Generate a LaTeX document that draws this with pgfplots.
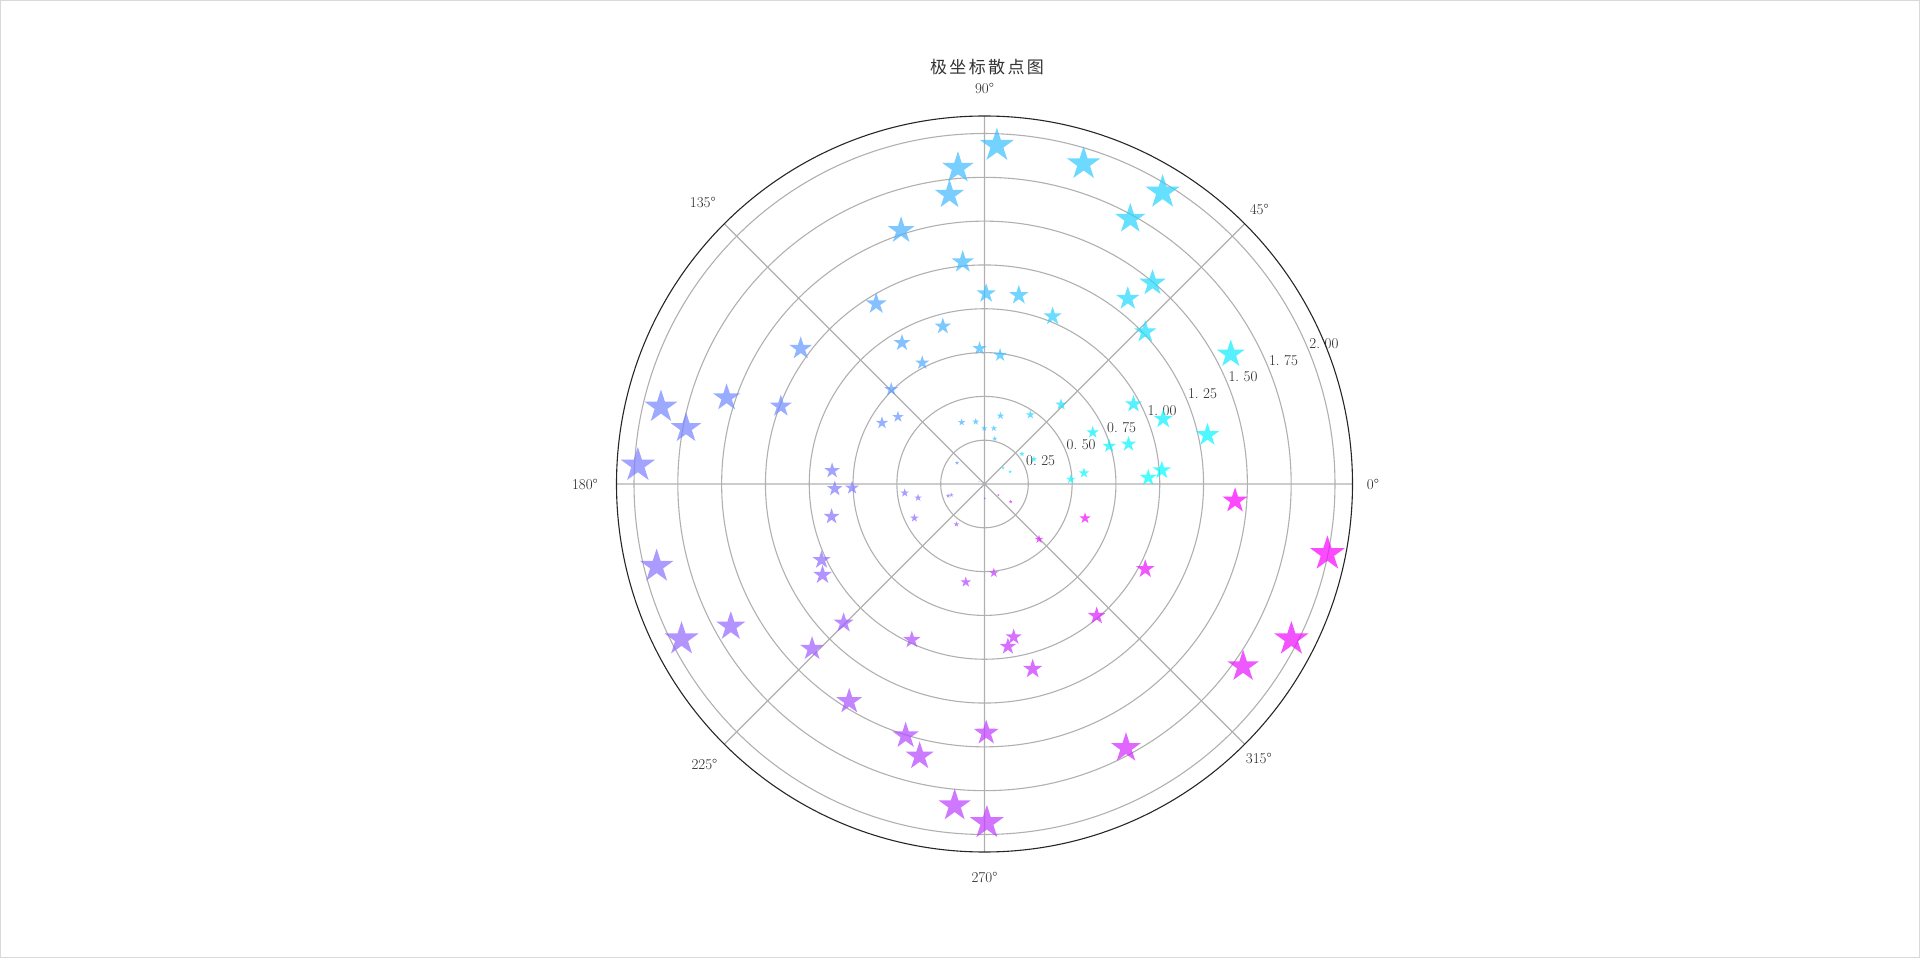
\documentclass[border=0pt]{standalone}
\usepackage{fontspec}
\newfontfamily\cjk[LetterSpace=14]{Noto Sans CJK SC}
\usepackage{pgfplots}
\usepackage{pgfplotstable}
\pgfplotsset{compat=1.18}
\usepgfplotslibrary{polar}

\pgfdeclareplotmark{fstar}{%
  \pgfpathmoveto{\pgfqpointpolar{90}{\pgfplotmarksize}}%
  \pgfpathlineto{\pgfqpointpolar{126}{0.382\pgfplotmarksize}}%
  \pgfpathlineto{\pgfqpointpolar{162}{\pgfplotmarksize}}%
  \pgfpathlineto{\pgfqpointpolar{198}{0.382\pgfplotmarksize}}%
  \pgfpathlineto{\pgfqpointpolar{234}{\pgfplotmarksize}}%
  \pgfpathlineto{\pgfqpointpolar{270}{0.382\pgfplotmarksize}}%
  \pgfpathlineto{\pgfqpointpolar{306}{\pgfplotmarksize}}%
  \pgfpathlineto{\pgfqpointpolar{342}{0.382\pgfplotmarksize}}%
  \pgfpathlineto{\pgfqpointpolar{18}{\pgfplotmarksize}}%
  \pgfpathlineto{\pgfqpointpolar{54}{0.382\pgfplotmarksize}}%
  \pgfpathclose
  \pgfusepathqfill
}

\pgfplotstableread{
t r
87.9 1.933
72.8 1.913
58.6 1.951
61.2 1.727
94.8 1.810
96.9 1.663
108.2 1.523
95.6 1.273
89.5 1.087
79.7 1.095
50.1 1.495
52.3 1.337
67.9 1.033
43.4 1.263
27.8 1.589
121.0 1.200
120.3 0.933
104.8 0.931
117.2 0.777
92.1 0.774
83.1 0.741
143.6 1.303
134.6 0.758
161.5 1.552
159.1 1.244
166.6 1.898
169.4 1.733
176.9 1.981
142.2 0.625
149.2 0.681
175.0 0.873
46.1 0.630
28.2 0.965
20.0 1.085
12.4 1.303
25.5 0.684
16.9 0.744
15.5 0.853
56.5 0.474
76.8 0.400
110.3 0.375
98.0 0.359
90.2 0.318
80.5 0.322
77.3 0.265
38.8 0.274
26.8 0.316
40.8 0.140
25.7 0.162
142.5 0.198
157.0 0.034
3.1 0.493
6.3 0.571
2.2 0.935
4.4 1.015
181.8 0.855
181.7 0.756
186.4 0.458
191.7 0.387
198.0 0.218
198.4 0.199
192.0 0.892
205.9 0.445
235.1 0.280
205.0 1.026
209.3 1.060
259.2 0.570
194.1 1.929
207.1 1.942
209.3 1.660
224.6 1.129
223.7 1.361
245.0 0.981
238.1 1.461
252.6 1.505
256.6 1.597
264.7 1.843
270.4 1.420
270.4 1.933
356.2 1.433
348.5 1.997
333.2 1.962
324.8 1.806
298.2 1.709
341.2 0.606
314.6 0.443
332.1 1.038
310.4 0.988
276.0 0.510
280.8 0.889
278.2 0.937
284.6 1.091
321.6 0.101
326.0 0.180
271.0 0.082
230.0 0.025
}\stars

\begin{document}
\begin{tikzpicture}
\useasboundingbox (0pt,0pt) rectangle (1920pt,958pt);
\draw[black!15, line width=1pt] (0.5pt,0.5pt) rectangle (1919.5pt,957.5pt);
\node[font={\cjk\fontsize{17}{20}\selectfont}, text=black!80] at (987pt,891.3pt) {极坐标散点图};
\begin{polaraxis}[
  at={(984.5pt,474pt)}, anchor=center,
  scale only axis, width=736pt, height=736pt,
  xmin=0, xmax=360, ymin=0, ymax=2.1,
  xtick={0,45,...,315},
  ytick={0.25,0.5,0.75,1.0,1.25,1.5,1.75,2.0},
  yticklabels={},
  xticklabels={},
  grid=major,
  major grid style={color=black!31, line width=1.1pt},
  x axis line style={line width=1.1pt, black!85},
  y axis line style={draw=none},
  major tick length=0pt,
  clip=false,
  colormap={cool}{rgb=(0,1,1) rgb=(1,0,1)},
  point meta min=0, point meta max=360,
]
\addplot[scatter, only marks, mark=fstar,
  point meta=\thisrow{t},
  visualization depends on={\thisrow{r}\as\rr},
  scatter/@pre marker code/.append style={/tikz/mark size={0.4+9.0*\rr}},
  mark options={fill opacity=0.72, draw opacity=0}]
  table[x=t, y=r] {\stars};
\foreach \v/\a/\b in {0.25/0/25, 0.5/0/50, 0.75/0/75, 1.0/1/00, 1.25/1/25, 1.5/1/50, 1.75/1/75, 2.0/2/00} {
  \edef\temp{\noexpand\node[anchor=south west, inner sep=1pt, font=\noexpand\fontsize{15}{17}\noexpand\selectfont, text=black!85] at (axis cs:22.5,\v) {\a.\noexpand\kern0.3em\b};}
  \temp
}
\foreach \ang/\rl in {0/2.217, 45/2.217, 90/2.255, 135/2.273, 180/2.28, 225/2.26, 270/2.244, 315/2.214} {
  \edef\temp{\noexpand\node[anchor=center, inner sep=0pt, font=\noexpand\fontsize{15}{17}\noexpand\selectfont, text=black!85] at (axis cs:\ang,\rl) {\ang°};}
  \temp
}
\end{polaraxis}
\end{tikzpicture}
\end{document}
